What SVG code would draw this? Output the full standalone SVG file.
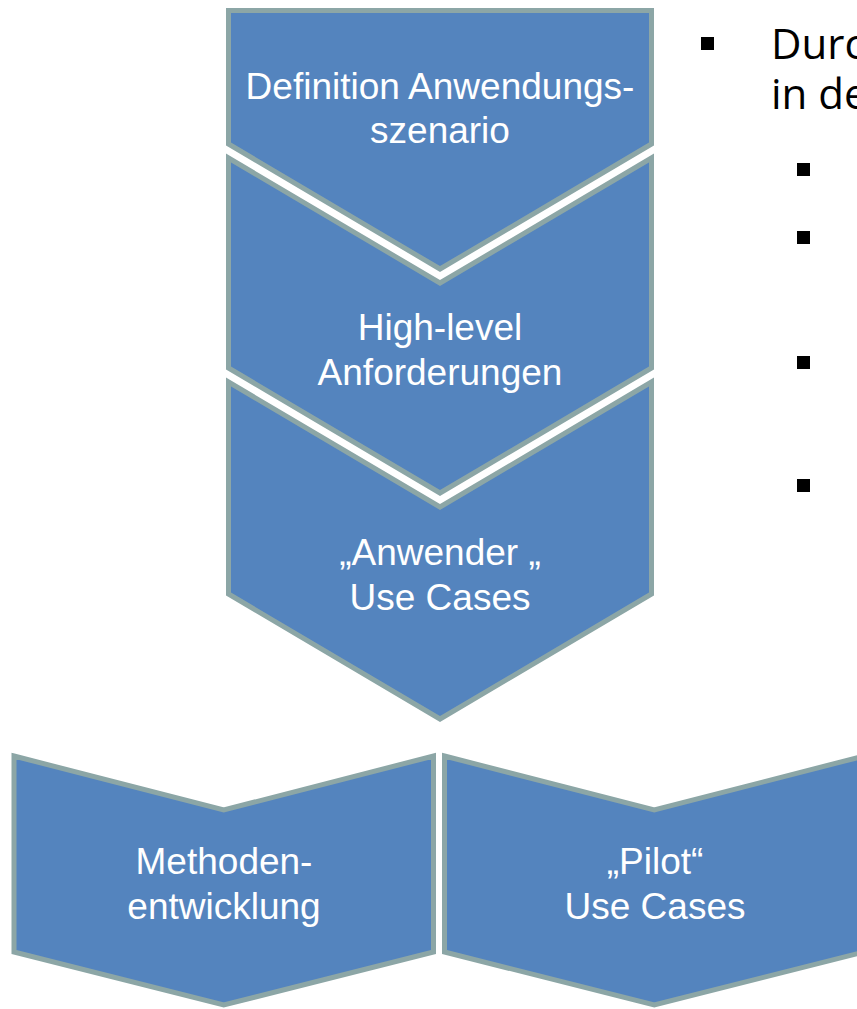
<svg xmlns="http://www.w3.org/2000/svg" width="857" height="1009" viewBox="0 0 857 1009">
  <style>
    .shape { fill: #5484BE; stroke: #8CA6A6; stroke-width: 5; stroke-linejoin: miter; }
    .lbl { font-family: "Liberation Sans", Arial, sans-serif; font-size: 37px; fill: #FFFFFF; text-anchor: middle; }
    .txt { font-family: "Open Sans", "Noto Sans", sans-serif; font-size: 42px; fill: #000000; }
    .bul { fill: #000000; }
  </style>
  <rect width="857" height="1009" fill="#FFFFFF"/>

  <g id="node-definition">
    <polygon class="shape" points="228.5,10.5 651.5,10.5 651.5,144 440,269 228.5,144"/>
    <text class="lbl" x="440" y="99">Definition Anwendungs-</text>
    <text class="lbl" x="440" y="143">szenario</text>
  </g>

  <g id="node-highlevel">
    <polygon class="shape" points="228.5,158 440,283 651.5,158 651.5,368 440,493 228.5,368"/>
    <text class="lbl" x="440" y="340">High-level</text>
    <text class="lbl" x="440" y="385">Anforderungen</text>
  </g>

  <g id="node-anwender">
    <polygon class="shape" points="228.5,382 440,507 651.5,382 651.5,594 440,719 228.5,594"/>
    <text class="lbl" x="440" y="565">„Anwender „</text>
    <text class="lbl" x="440" y="610">Use Cases</text>
  </g>

  <g id="node-methoden">
    <polygon class="shape" points="14,756 223.75,810 433.5,756 433.5,952 223.75,1005 14,952"/>
    <text class="lbl" x="224" y="874">Methoden-</text>
    <text class="lbl" x="224" y="919">entwicklung</text>
  </g>

  <g id="node-pilot">
    <polygon class="shape" points="444.5,756 654.25,810 864,756 864,952 654.25,1005 444.5,952"/>
    <text class="lbl" x="655" y="874">„Pilot“</text>
    <text class="lbl" x="655" y="919">Use Cases</text>
  </g>

  <g id="connectors"></g>

  <g id="bullets">
    <rect class="bul" x="701" y="37" width="13" height="13"/>
    <text class="txt" x="771" y="59">Durc</text>
    <text class="txt" x="771" y="109">in de</text>
    <rect class="bul" x="797" y="163" width="13" height="13"/>
    <rect class="bul" x="797" y="231" width="13" height="13"/>
    <rect class="bul" x="797" y="356" width="13" height="13"/>
    <rect class="bul" x="797" y="479" width="13" height="13"/>
  </g>
</svg>
